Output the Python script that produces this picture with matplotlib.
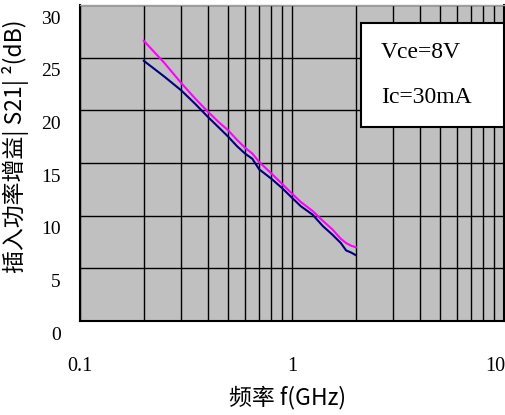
import matplotlib
matplotlib.use('Agg')
import matplotlib.pyplot as plt
from matplotlib.patches import Rectangle
from matplotlib.transforms import ScaledTranslation

# frequency (GHz) and insertion power gain |S21|^2 (dB)
freq = [0.2, 0.25, 0.3, 0.35, 0.4, 0.45, 0.5, 0.55, 0.6, 0.65, 0.7,
        0.8, 0.9, 1.0, 1.1, 1.25, 1.4, 1.55, 1.7, 1.8, 1.9, 2.0]
gain_magenta = [26.6, 24.5, 22.6, 21.1, 19.9, 18.9, 18.1, 17.2, 16.45, 15.9, 15.1,
                14.0, 13.0, 12.1, 11.3, 10.45, 9.5, 8.7, 7.8, 7.4, 7.15, 7.0]
gain_navy = [24.7, 23.2, 21.9, 20.6, 19.4, 18.4, 17.5, 16.6, 15.9, 15.4, 14.4,
             13.5, 12.6, 11.7, 10.9, 10.1, 9.0, 8.2, 7.4, 6.7, 6.5, 6.25]

yticks = [0, 5, 10, 15, 20, 25, 30]
xticks = [0.1, 1, 10]
xticklabels = ['0.1', '1', '10']
cond_lines = ['Vce=8V', 'Ic=30mA']

plt.rcParams['font.family'] = ['Noto Sans CJK SC', 'DejaVu Sans']

fig = plt.figure(figsize=(5.05, 4.15), dpi=100)
ax = fig.add_axes([80 / 505, 1 - 321 / 415, 424 / 505, 316 / 415])
ax.set_facecolor('#C0C0C0')

ax.set_xscale('log')
ax.set_xlim(0.1, 10)
ax.set_ylim(0, 30)

# grid: every 1..9 per decade, every 5 dB
minor = [m * d for d in (0.1, 1) for m in range(1, 10)] + [10]
for xv in minor:
    ax.axvline(xv, color='black', lw=1.0, zorder=1)
for yv in yticks:
    ax.axhline(yv, color='black', lw=1.0, zorder=1)

ax.plot(freq, gain_magenta, color='#FF00FF', lw=1.5, zorder=3)
ax.plot(freq, gain_navy, color='#000080', lw=1.5, zorder=3)

ax.set_yticks(yticks)
ax.set_yticklabels([str(v) for v in yticks], family='Liberation Serif', fontsize=14)
ax.set_xticks(xticks)
ax.set_xticklabels(xticklabels, family='Liberation Serif', fontsize=14.5)
ax.xaxis.set_minor_locator(plt.NullLocator())
ax.tick_params(axis='both', length=0)
ax.tick_params(axis='y', pad=14)
ax.tick_params(axis='x', pad=26)
for lbl in ax.get_yticklabels():
    lbl.set_transform(lbl.get_transform() + ScaledTranslation(0, -0.12, fig.dpi_scale_trans))
xl = ax.get_xticklabels()
xl[-1].set_horizontalalignment('right')
xl[-1].set_transform(xl[-1].get_transform() + ScaledTranslation(0.01, 0, fig.dpi_scale_trans))

for s in ('left', 'bottom', 'right'):
    ax.spines[s].set_color('black')
    ax.spines[s].set_linewidth(1.5)
ax.spines['top'].set_color('#A0A0A0')
ax.spines['top'].set_linewidth(1.0)

ax.set_xlabel('频率 f(GHz)', fontsize=16.5)
ax.xaxis.set_label_coords(0.49, -0.205)
ax.set_ylabel('插入功率增益| S21| ²(dB)', fontsize=16.5)
ax.yaxis.set_label_coords(-0.12, 0.554)

ax.add_patch(Rectangle((0.662, 0.615), 0.338, 0.329, transform=ax.transAxes,
                       facecolor='white', edgecolor='black', lw=1.5, zorder=5,
                       clip_on=False))
for txt, yy in zip(cond_lines, [0.851, 0.706]):
    ax.text(0.71, yy, txt, transform=ax.transAxes, family='Liberation Serif',
            fontsize=17, va='center', ha='left', zorder=6)

fig.savefig('out.png', dpi=100)
